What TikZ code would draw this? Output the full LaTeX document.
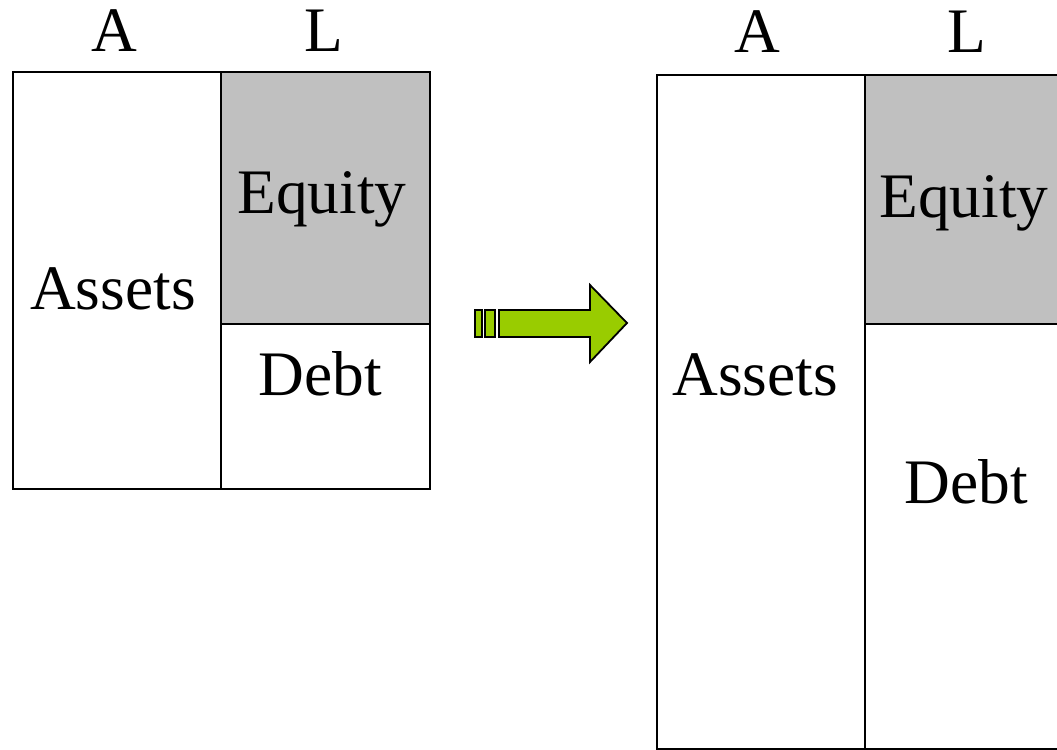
\documentclass[tikz,border=0pt]{standalone}
\usepackage{fontspec}
\setmainfont{Liberation Serif}
\definecolor{eqgray}{RGB}{192,192,192}
\definecolor{arrgreen}{RGB}{153,204,0}
\begin{document}
\begin{tikzpicture}[x=1bp,y=-1bp,
  boxline/.style={draw=black,line width=1.3bp},
  lbl/.style={anchor=base,inner sep=0pt,font=\fontsize{63.4bp}{70bp}\selectfont},
  arrowpart/.style={draw=black,fill=arrgreen,line width=1.8bp,line join=miter}]
\useasboundingbox (0,0) rectangle (1057,750);
% left balance sheet
\fill[eqgray] (221,72) rectangle (430,324);
\draw[boxline] (13,72) rectangle (430,489);
\draw[boxline] (221,72) -- (221,489);
\draw[boxline] (221,324) -- (430,324);
\node[lbl] (lA) at (114,52) {A};
\node[lbl] (lL) at (324,52) {L};
\node[lbl] (lAssets) at (113,309) {Assets};
\node[lbl] (lEquity) at (322,213) {Equity};
\node[lbl] (lDebt) at (320,395) {Debt};
% arrow
\draw[arrowpart] (475,310) rectangle (482,337);
\draw[arrowpart] (485,310) rectangle (495,337);
\draw[arrowpart] (499,310) -- (590,310) -- (590,285) -- (627,323) -- (590,362) -- (590,337) -- (499,337) -- cycle;
% right balance sheet (clipped at page edge)
\begin{scope}
\clip (0,0) rectangle (1057,750);
\fill[eqgray] (865,75) rectangle (1075,324);
\draw[boxline] (657,75) rectangle (1075,749);
\draw[boxline] (865,75) -- (865,749);
\draw[boxline] (865,324) -- (1075,324);
\end{scope}
\node[lbl] (rA) at (757,53) {A};
\node[lbl] (rL) at (967,53) {L};
\node[lbl] (rAssets) at (755,395) {Assets};
\node[lbl] (rEquity) at (964,217) {Equity};
\node[lbl] (rDebt) at (966,503) {Debt};
\end{tikzpicture}
\end{document}
